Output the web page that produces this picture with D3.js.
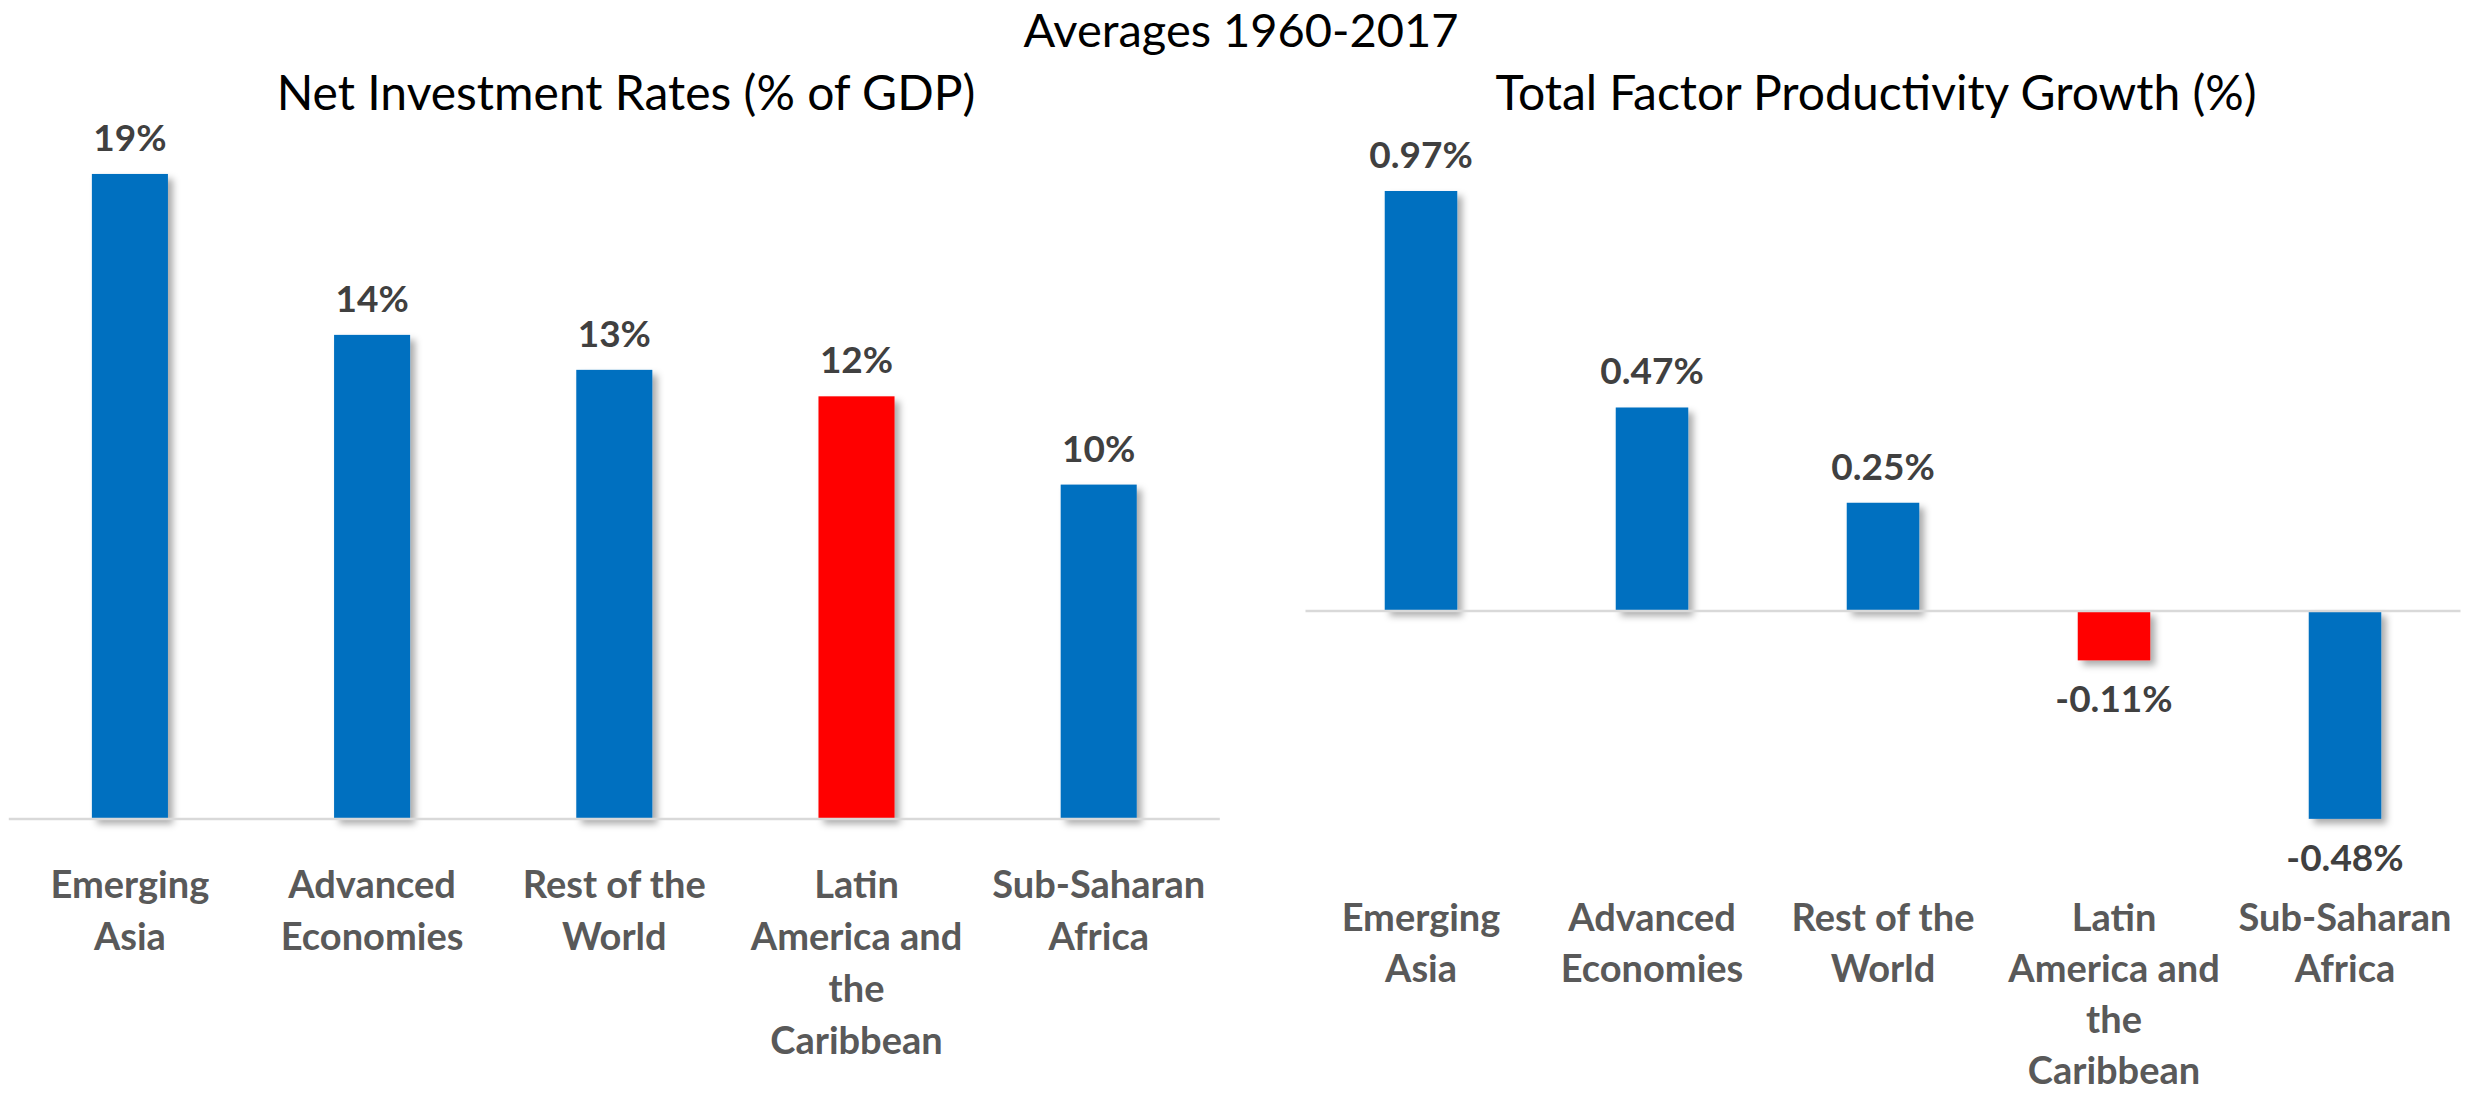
<!DOCTYPE html>
<html>
<head>
<meta charset="utf-8">
<script src="https://cdn.jsdelivr.net/npm/d3@7"></script>
<style>
  html, body { margin: 0; padding: 0; background: #ffffff; }
  svg { display: block; }
  text { font-family: Lato, "Open Sans", sans-serif; }
</style>
</head>
<body>
<svg id="chart" width="2483" height="1093"></svg>
<script>
// ---------------- data ----------------
const categories = [
  "Emerging Asia",
  "Advanced Economies",
  "Rest of the World",
  "Latin America and the Caribbean",
  "Sub-Saharan Africa"
];
const categoryLines = [
  ["Emerging", "Asia"],
  ["Advanced", "Economies"],
  ["Rest of the", "World"],
  ["Latin", "America and", "the", "Caribbean"],
  ["Sub-Saharan", "Africa"]
];
const investmentRates = [19.0, 14.26, 13.23, 12.45, 9.85];   // % of GDP
const tfpGrowth = [0.97, 0.47, 0.25, -0.114, -0.48];          // %
const highlighted = "Latin America and the Caribbean";

const mainTitle = "Averages 1960-2017";
const leftTitle = "Net Investment Rates (% of GDP)";
const rightTitle = "Total Factor Productivity Growth (%)";

// ---------------- setup ----------------
const svg = d3.select("#chart");
const BLUE = "#0070C0", RED = "#FF0000";
const locale = d3.formatLocale({decimal: ".", thousands: ",", grouping: [3], currency: ["$", ""], minus: "-"});
const fmt0 = locale.format(".0f");
const fmt2 = locale.format(".2f");

const defs = svg.append("defs");
const filt = defs.append("filter").attr("id", "shadow")
  .attr("x", "-20%").attr("y", "-20%").attr("width", "160%").attr("height", "160%");
filt.append("feDropShadow")
  .attr("dx", 5).attr("dy", 5).attr("stdDeviation", 3.5)
  .attr("flood-color", "#000").attr("flood-opacity", 0.33);

svg.append("text")
  .attr("x", 1241).attr("y", 47)
  .attr("text-anchor", "middle")
  .attr("font-size", 47).attr("fill", "#000")
  .text(mainTitle);

function drawPanel(cfg) {
  const g = svg.append("g");
  const x = d3.scaleBand().domain(categories)
    .range(cfg.xRange).paddingInner(0.686).paddingOuter(0.343);
  const y = d3.scaleLinear().domain(cfg.yDomain).range(cfg.yRange);
  const data = categories.map((c, i) => ({c, v: cfg.values[i], lines: categoryLines[i]}));

  g.append("text")
    .attr("x", cfg.titleX).attr("y", 110)
    .attr("text-anchor", "middle")
    .attr("font-size", 48).attr("fill", "#000")
    .text(cfg.title);

  // bars
  g.selectAll("rect.bar").data(data).join("rect")
    .attr("class", "bar")
    .attr("x", d => x(d.c))
    .attr("width", x.bandwidth())
    .attr("y", d => Math.min(y(d.v), y(0)))
    .attr("height", d => Math.abs(y(d.v) - y(0)))
    .attr("fill", d => d.c === highlighted ? RED : BLUE)
    .attr("filter", "url(#shadow)");

  // zero / category axis line
  g.append("line")
    .attr("x1", cfg.xRange[0]).attr("x2", cfg.xRange[1])
    .attr("y1", y(0)).attr("y2", y(0))
    .attr("stroke", "#D9D9D9").attr("stroke-width", 2.5);

  // data labels
  g.selectAll("text.val").data(data).join("text")
    .attr("class", "val")
    .attr("x", d => x(d.c) + x.bandwidth() / 2)
    .attr("y", d => d.v >= 0 ? y(d.v) - 23 : y(d.v) + 52)
    .attr("text-anchor", "middle")
    .attr("font-size", 37).attr("font-weight", "bold").attr("fill", "#404040")
    .text(d => cfg.format(d.v) + "%");

  // category labels
  const cat = g.selectAll("text.cat").data(data).join("text")
    .attr("class", "cat")
    .attr("text-anchor", "middle")
    .attr("font-size", 38).attr("font-weight", "bold").attr("fill", "#595959");
  cat.selectAll("tspan").data(d => d.lines.map(l => ({l, cx: x(d.c) + x.bandwidth() / 2})))
    .join("tspan")
    .attr("x", d => d.cx)
    .attr("y", (d, i) => cfg.catY + i * cfg.lineH)
    .text(d => d.l);
}

drawPanel({
  title: leftTitle, titleX: 626,
  values: investmentRates,
  xRange: [8.8, 1219.8],
  yDomain: [0, 20], yRange: [819, 819 - 20 * 33.95],
  format: fmt0,
  catY: 898, lineH: 52
});

drawPanel({
  title: rightTitle, titleX: 1876,
  values: tfpGrowth,
  xRange: [1305.5, 2460.5],
  yDomain: [-0.5, 1.0], yRange: [611 + 0.5 * 433, 611 - 1.0 * 433],
  format: fmt2,
  catY: 931, lineH: 51
});
</script>
</body>
</html>
